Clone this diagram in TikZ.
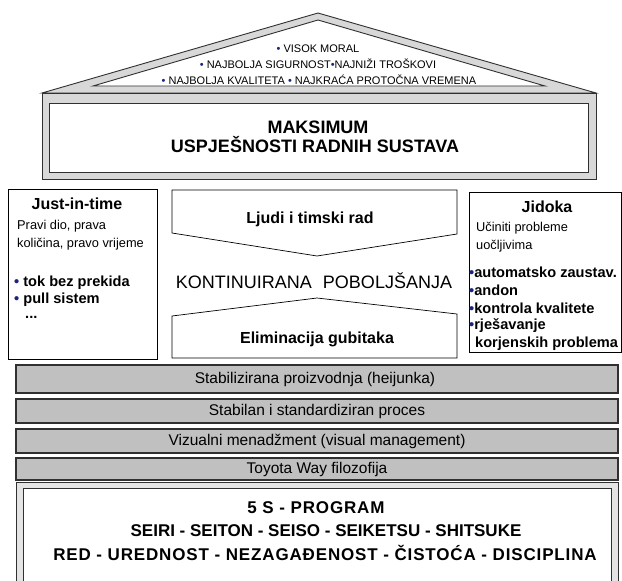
\documentclass[tikz,border=0pt]{standalone}
\usepackage{fontspec}
\setmainfont{Liberation Sans}
\usetikzlibrary{calc}
\definecolor{framegray}{HTML}{D8D8D8}
\definecolor{bargray}{HTML}{C0C0C0}
\definecolor{edgegray}{HTML}{303030}
\definecolor{dotblue}{HTML}{1A237E}
\newcommand\bdot{{\color{dotblue}\textbullet}}
\begin{document}
\begin{tikzpicture}[x=1pt,y=-1pt,
  outline/.style={draw=edgegray,line width=0.9pt},
  pillar/.style={draw=black,line width=0.7pt,fill=white},
  layer/.style={draw=edgegray,line width=1.3pt,fill=bargray},
  rooftext/.style={font=\fontsize{11}{11}\selectfont,inner sep=0pt,anchor=center},
  goaltext/.style={font=\bfseries\fontsize{18}{18}\selectfont,inner sep=0pt},
  boldtitle/.style={font=\bfseries\fontsize{16}{16}\selectfont,inner sep=0pt},
  pillartext/.style={font=\fontsize{12.8}{12.8}\selectfont,inner sep=0pt,anchor=base west},
  pillarbold/.style={font=\bfseries\fontsize{14.6}{14.6}\selectfont,inner sep=0pt,anchor=base west},
  layertext/.style={font=\fontsize{15.5}{15.5}\selectfont,inner sep=0pt,anchor=center},
  fivestext/.style={font=\bfseries\fontsize{17}{17}\selectfont,inner sep=0pt,anchor=center}]
\useasboundingbox (0,0) rectangle (622,581);
\fill[white] (0,0) rectangle (622,581);

% roof: grey band between two triangles
\draw[outline,fill=framegray] (42,93) -- (318,13) -- (596,93) -- cycle;
\draw[outline,fill=white] (93,86) -- (318,20) -- (545,86) -- cycle;
\node[rooftext] (r1) at (318,49) {\bdot\ VISOK MORAL};
\node[rooftext] (r2) at (318,64) {\bdot\ NAJBOLJA SIGURNOST\bdot NAJNIŽI TROŠKOVI};
\node[rooftext] (r3) at (319,80) {\bdot\ NAJBOLJA KVALITETA \bdot\ NAJKRAĆA PROTOČNA VREMENA};

% top frame with the goal
\draw[outline,fill=framegray] (42,93) rectangle (596,179);
\draw[outline,fill=white] (49,103) rectangle (588,172);
\node[goaltext] (goal1) at (318,127) {MAKSIMUM};
\node[goaltext] (goal2) at (315,145) {USPJEŠNOSTI RADNIH SUSTAVA};

% left pillar
\draw[pillar] (8,189) rectangle (157,359);
\node[boldtitle] (jit) at (77,204) {Just-in-time};
\node[pillartext] (jit1) at (17,229) {Pravi dio, prava};
\node[pillartext] (jit2) at (17,247) {količina, pravo vrijeme};
\node[pillarbold] (jit3) at (14,286) {\bdot\ tok bez prekida};
\node[pillarbold] (jit4) at (14,303) {\bdot\ pull sistem};
\node[pillarbold] (jit5) at (25,318) {...};

% right pillar
\draw[pillar] (469,192) rectangle (621,352);
\node[boldtitle] (jid) at (547,207) {Jidoka};
\node[pillartext] (jid1) at (476,231) {Učiniti probleme};
\node[pillartext] (jid2) at (476,249) {uočljivima};
\node[pillarbold] (jid3) at (469,277) {\bdot automatsko zaustav.};
\node[pillarbold] (jid4) at (469,295) {\bdot andon};
\node[pillarbold] (jid5) at (469,313) {\bdot kontrola kvalitete};
\node[pillarbold] (jid6) at (469,329) {\bdot rješavanje};
\node[pillarbold] (jid7) at (475,347) {korjenskih problema};

% centre: two chevron-shaped blocks
\draw[pillar] (172,190) -- (457,190) -- (457,234) -- (317,256) -- (172,233) -- cycle;
\draw[pillar] (172,316) -- (317,298) -- (457,314) -- (457,358) -- (172,358) -- cycle;
\node[boldtitle] (people) at (310,219) {Ljudi i timski rad};
\node[font=\fontsize{18}{18}\selectfont,inner sep=0pt] (kaizen) at (314,281) {KONTINUIRANA\hspace{11pt}POBOLJŠANJA};
\node[boldtitle] (waste) at (317,339) {Eliminacija gubitaka};

% foundation layers
\draw[layer] (16,365) rectangle (618,393);
\node[layertext] (l1) at (315,379) {Stabilizirana proizvodnja (heijunka)};
\draw[layer] (16,399) rectangle (618,423);
\node[layertext] (l2) at (317,411) {Stabilan i standardiziran proces};
\draw[layer] (16,429) rectangle (618,453);
\node[layertext] (l3) at (317,441) {Vizualni menadžment (visual management)};
\draw[layer] (16,458) rectangle (618,480);
\node[layertext] (l4) at (317,469) {Toyota Way filozofija};

% 5S base, running off the lower edge
\begin{scope}
\clip (0,0) rectangle (622,581);
\draw[outline,fill=framegray!70] (16,482) rectangle (618,600);
\draw[outline,fill=white] (23,488) rectangle (611,600);
\end{scope}
\node[fivestext] (s1) at (316,508) {\addfontfeature{LetterSpace=5}5 S - PROGRAM};
\node[fivestext] (s2) at (326,531) {SEIRI - SEITON - SEISO - SEIKETSU - SHITSUKE};
\node[fivestext] (s3) at (325,553) {\addfontfeature{LetterSpace=5}RED - UREDNOST - NEZAGAĐENOST - ČISTOĆA - DISCIPLINA};
\end{tikzpicture}
\end{document}
